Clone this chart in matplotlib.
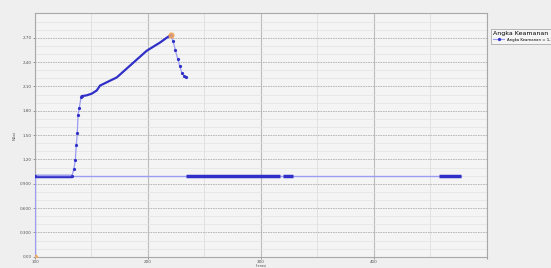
import numpy as np
import matplotlib
matplotlib.use("Agg")
import matplotlib.pyplot as plt
from matplotlib.ticker import MultipleLocator, FixedLocator
from matplotlib.lines import Line2D

# data
rise_x = [0, 32.8, 34.5, 35.7, 36.6, 37.5, 38.1, 39.2, 40.8, 41.6]
rise_y = [1.0, 1.0, 1.085, 1.19, 1.38, 1.52, 1.75, 1.83, 1.97, 1.98]
curve_x = [41.6, 45.8, 50.2, 54.7, 57.6, 66.4, 72.4, 99.0, 110.7, 116.7, 120.2]
curve_y = [1.98, 1.99, 2.01, 2.05, 2.11, 2.17, 2.21, 2.54, 2.64, 2.70, 2.73]
fall_x = [120.2, 122.3, 124.3, 126.4, 128.3, 130.2, 132.0, 133.8]
fall_y = [2.73, 2.66, 2.55, 2.44, 2.35, 2.26, 2.23, 2.22]
base_y = 1.0
base_end = 377
# x ranges where the markers at y = 1.0 are packed together
dense_runs = [(0, 32.8), (133.8, 217), (220, 229), (358, 377)]
peak = (120.2, 2.73)
legend_label = "Angka Keamanan = 1,2325"

line_c = "#9c9cf2"
mark_c = "#3030c8"

fig = plt.figure(figsize=(5.51, 2.68), dpi=100)
fig.patch.set_facecolor("#efefef")
ax = fig.add_axes([0.0635, 0.042, 0.8195, 0.908])
ax.set_facecolor("#f4f4f4")

# thin series line along y = 1.0 and the drop from origin
ax.plot([0, 0], [0, base_y], color=line_c, lw=1.0, zorder=3)
ax.plot([0, base_end], [base_y, base_y], color=line_c, lw=1.0, zorder=3)
for a, b in dense_runs:
    ax.plot([a, b], [base_y, base_y], color=mark_c, lw=2.5,
            solid_capstyle="butt", zorder=4)

ax.plot(rise_x, rise_y, color=line_c, lw=0.9, marker="o", ms=1.3,
        mfc=mark_c, mec=mark_c, zorder=4)
ax.plot(curve_x, curve_y, color=mark_c, lw=1.6, zorder=4)
ax.plot(fall_x, fall_y, color=line_c, lw=0.9, marker="o", ms=1.3,
        mfc=mark_c, mec=mark_c, zorder=4)

# highlighted points
ax.plot([peak[0]], [peak[1]], "o", ms=3.5, mfc="#f5b070", mec="#f0a050",
        alpha=0.8, zorder=5)
ax.plot([0], [0], "o", ms=3, mfc="#f5b070", mec="#f0a050", alpha=0.8, zorder=5)

ax.set_xlim(0, 400)
ax.set_ylim(0, 3.0)
ax.xaxis.set_major_locator(MultipleLocator(100))
ax.xaxis.set_minor_locator(MultipleLocator(50))
ax.yaxis.set_major_locator(FixedLocator([0, 0.3, 0.6, 0.9, 1.2, 1.5, 1.8, 2.1, 2.4, 2.7]))
ax.yaxis.set_minor_locator(MultipleLocator(0.1))
ax.set_xticklabels(["0.00", "100", "200", "300", "400"])
ax.set_yticklabels(["0.00", "0.300", "0.600", "0.900", "1.20", "1.50",
                    "1.80", "2.10", "2.40", "2.70"])
ax.tick_params(labelsize=3, colors="#555555", length=1.5, width=0.4, pad=1)
ax.tick_params(axis="x", pad=0.5)
ax.tick_params(which="minor", length=0)

ax.grid(axis="x", which="major", color="#bdbdbd", lw=0.8)
ax.grid(axis="x", which="minor", color="#dedede", lw=0.6)
ax.grid(axis="y", which="major", color="#b0b0b0", lw=0.6, ls=(0, (2, 1)))
ax.grid(axis="y", which="minor", color="#e2e2e2", lw=0.5)
ax.set_axisbelow(True)
for s in ax.spines.values():
    s.set_color("#a8a8a8")
    s.set_linewidth(0.8)

ax.set_xlabel("Iterasi", fontsize=2.5, color="#555555", va="top")
ax.xaxis.set_label_coords(0.5, -0.031)
ax.set_ylabel("Nilai", fontsize=3, color="#555555", labelpad=2)

handle = Line2D([], [], color=line_c, lw=0.8, marker="o", ms=1.3,
                mfc=mark_c, mec=mark_c)
leg = ax.legend([handle], [legend_label], title="Angka Keamanan",
                loc="upper left", bbox_to_anchor=(1.005, 0.945),
                fontsize=2.8, title_fontsize=4.5, frameon=True,
                fancybox=False, borderpad=0.5, handlelength=3,
                alignment="left")
leg.get_frame().set_edgecolor("#999999")
leg.get_frame().set_linewidth(0.6)
leg.get_frame().set_facecolor("#f7f7f7")

fig.savefig("out.png", dpi=100)
